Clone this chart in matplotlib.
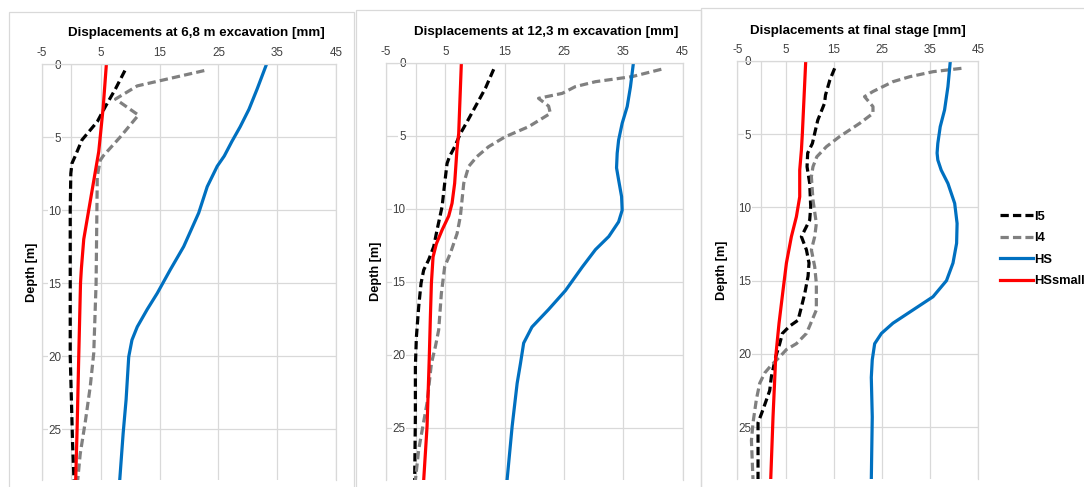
import matplotlib
matplotlib.use("Agg")
import matplotlib.pyplot as plt
from matplotlib.patches import Rectangle
from matplotlib.lines import Line2D

plt.rcParams['font.family'] = ['Liberation Sans', 'DejaVu Sans']
plt.rcParams['axes.unicode_minus'] = False

# ---------------- data ----------------
titles = ["Displacements at 6,8 m excavation [mm]",
          "Displacements at 12,3 m excavation [mm]",
          "Displacements at final stage [mm]"]
series_names = ["I5", "I4", "HS", "HSsmall"]
x_ticks = [-5, 5, 15, 25, 35, 45]
y_ticks = [0, 5, 10, 15, 20, 25]

# Panel 1 (6,8 m excavation)
p1_i5_d = [0.45, 1.7, 2.9, 3.95, 5.2, 5.9, 6.35, 6.8, 7.5, 10, 15, 20, 23, 26, 28.6]
p1_i5_x = [9.1, 7.5, 5.8, 4.4, 1.8, 1.07, 0.6, 0.1, -0.1, -0.2, -0.2, -0.2, 0.0, 0.2, 0.45]
p1_i4_d = [0.45, 1.5, 2.4, 3.5, 5.0, 6.3, 6.6, 7.7, 15, 19.8, 22.1, 24.4, 26.7, 28.6]
p1_i4_x = [22.6, 11.2, 7.5, 11.4, 8.3, 5.4, 4.9, 4.4, 4.2, 3.8, 3.2, 2.4, 1.5, 1.05]
p1_hs_d = [0, 1.7, 3.1, 4.3, 5.3, 6.3, 7.0, 8.4, 10.2, 12.5, 14.1, 15.7, 16.8, 18.0, 18.9,
           20.05, 23, 25.3, 28.6]
p1_hs_x = [33.2, 31.6, 30.2, 28.7, 27.3, 26.0, 24.8, 23.1, 21.65, 19.1, 16.8, 14.6, 12.9, 11.2,
           10.3, 9.75, 9.3, 8.8, 8.2]
p1_hss_d = [0, 3, 6, 8, 10, 12, 14, 15, 20, 25, 28.6]
p1_hss_x = [5.95, 5.4, 4.65, 3.8, 2.95, 2.1, 1.7, 1.55, 1.25, 0.97, 0.72]

# Panel 2 (12,3 m excavation)
p2_i5_d = [0.45, 1.75, 3.0, 4.04, 4.85, 5.75, 6.44, 6.9, 8.26, 9.86, 11.46, 12.6, 13.5, 14.2,
           15.1, 16.7, 18.8, 20.8, 24.2, 28.6]
p2_i5_x = [13.15, 11.75, 10.07, 8.67, 7.54, 6.58, 5.69, 5.29, 4.89, 4.45, 3.6, 3.04, 2.19, 1.35,
           0.91, 0.51, 0.12, -0.05, -0.05, -0.17]
p2_i4_d = [0.45, 0.95, 1.3, 1.64, 2.1, 2.44, 2.97, 3.47, 4.38, 5.07, 5.75, 6.44, 7.1, 8.26,
           10.5, 11.7, 13.05, 13.97, 15.8, 18.3, 19.45, 20.6, 23.3, 25.2, 26.5, 28.6]
p2_i4_x = [41.4, 36.5, 30.3, 26.9, 24.7, 20.7, 22.4, 22.7, 19.05, 15.1, 12.3, 10.3, 8.94, 8.1,
           7.54, 6.98, 5.85, 4.89, 4.33, 3.88, 3.32, 2.65, 1.92, 1.08, 0.51, -0.05]
p2_hs_d = [0, 1.64, 3.0, 4.15, 5.3, 6.2, 7.2, 8.03, 9.17, 10.1, 10.9, 11.9, 12.8, 14.0, 15.6,
           16.9, 18.1, 19.2, 20.6, 21.96, 24.9, 28.6]
p2_hs_x = [36.7, 36.2, 35.65, 34.8, 34.2, 33.96, 33.85, 34.2, 34.7, 34.8, 34.2, 32.55, 30.3,
           28.06, 25.25, 22.4, 19.6, 18.2, 17.66, 17.1, 16.26, 15.4]
p2_hss_d = [0, 4.85, 6.0, 8.26, 9.63, 10.5, 11.46, 12.4, 13.3, 15.1, 17.4, 20.1, 24.9, 28.6]
p2_hss_x = [7.7, 7.25, 6.95, 6.57, 6.13, 5.57, 4.45, 3.49, 2.93, 2.65, 2.48, 2.3, 1.92, 1.35]

# Panel 3 (final stage)
p3_i5_d = [0.52, 1.32, 2.34, 2.9, 4.05, 4.95, 5.64, 6.3, 7.23, 8.37, 9.96, 10.87, 12.0, 12.9,
           13.8, 14.7, 15.9, 16.8, 17.7, 18.1, 18.6, 19.3, 20.2, 21.55, 22.5, 23.8, 24.7, 28.6]
p3_i5_x = [15.2, 14.2, 13.3, 13.1, 11.7, 11.06, 10.58, 9.6, 9.47, 10.02, 10.23, 10.02, 8.3,
           9.34, 9.88, 9.68, 8.98, 8.3, 7.6, 5.87, 4.36, 3.8, 2.97, 2.07, 1.72, 0.33, -0.7, -0.7]
p3_i4_d = [0.52, 0.75, 1.09, 1.43, 2.1, 2.45, 3.13, 3.59, 4.27, 5.18, 5.86, 6.55, 7.23, 7.91,
           9.5, 11.1, 12.0, 12.9, 14.05, 15.2, 17.0, 18.1, 18.6, 19.3, 19.7, 20.2, 20.76, 21.3,
           22.0, 23.1, 24.7, 25.9, 28.6]
p3_i4_x = [41.5, 35.6, 30.8, 27.3, 23.15, 21.4, 23.15, 23.15, 20.4, 16.2, 13.5, 11.5, 10.7,
           10.37, 10.7, 11.4, 11.06, 10.37, 11.06, 11.4, 11.4, 10.0, 9.34, 7.26, 5.19, 3.8, 2.07,
           0.68, -0.35, -1.04, -1.74, -2.07, -1.74]
p3_hs_d = [0, 1.77, 3.36, 4.5, 5.64, 6.3, 6.77, 7.46, 8.37, 9.73, 11.1, 12.45, 13.8, 15.0, 16.1,
           17.0, 17.9, 18.6, 19.3, 20.4, 21.6, 24.3, 28.6]
p3_hs_x = [39.2, 38.7, 38.0, 37.1, 36.6, 36.45, 36.6, 37.3, 38.7, 40.1, 40.6, 40.5, 39.75, 38.4,
           35.6, 31.45, 27.3, 24.9, 23.5, 23.0, 22.8, 23.0, 22.8]
p3_hss_d = [0, 4.95, 6.1, 7.46, 9.28, 10.64, 12.0, 13.8, 15.65, 17.9, 20.2, 24.3, 28.6]
p3_hss_x = [9.2, 8.5, 8.3, 7.95, 7.95, 7.26, 6.22, 5.19, 4.49, 3.66, 2.97, 2.41, 1.93]

panels = [
    [(p1_i5_x, p1_i5_d), (p1_i4_x, p1_i4_d), (p1_hs_x, p1_hs_d), (p1_hss_x, p1_hss_d)],
    [(p2_i5_x, p2_i5_d), (p2_i4_x, p2_i4_d), (p2_hs_x, p2_hs_d), (p2_hss_x, p2_hss_d)],
    [(p3_i5_x, p3_i5_d), (p3_i4_x, p3_i4_d), (p3_hs_x, p3_hs_d), (p3_hss_x, p3_hss_d)],
]

# ---------------- styles / layout ----------------
W, H = 1084, 487
colors = ["#000000", "#808080", "#0070C0", "#FF0000"]
dashed = [True, True, False, False]
grid_c = "#d9d9d9"
tick_c = "#404040"

# axes rectangles in pixels: left, right, top, bottom, depth at bottom
ax_px = [(42, 336, 64, 480, 28.49),
         (386, 682.7, 62.7, 480, 28.58),
         (737.3, 978.3, 60.7, 479.3, 28.55)]
title_pos = [(196, 33.3), (546, 32.3), (857.5, 30.7)]
ylabel_pos = [(32, 272), (375.7, 271.7), (721.7, 270)]
frames = [(9.3, 12.3, 354, 520), (355.5, 10, 700.7, 520), (701, 8.3, 1120, 520)]

fig = plt.figure(figsize=(W / 100, H / 100), dpi=100)
fig.patch.set_facecolor("white")

for (x0, y0, x1, y1) in frames:
    fig.patches.append(Rectangle((x0 / W, 1 - y1 / H), (x1 - x0) / W, (y1 - y0) / H,
                                 transform=fig.transFigure, fill=False,
                                 edgecolor=grid_c, linewidth=0.9, zorder=0))

dash_style = (0, (2.6, 1.3))
for i, series in enumerate(panels):
    l, r, t, b, dmax = ax_px[i]
    ax = fig.add_axes([l / W, 1 - b / H, (r - l) / W, (b - t) / H])
    ax.set_xlim(-5, 45)
    ax.set_ylim(dmax, 0)
    ax.set_axisbelow(True)
    for k, (xs, ds) in enumerate(series):
        if dashed[k]:
            ax.plot(xs, ds, color=colors[k], lw=2.3, linestyle=dash_style,
                    dash_capstyle="butt", solid_joinstyle="round")
        else:
            ax.plot(xs, ds, color=colors[k], lw=2.3, solid_capstyle="butt",
                    solid_joinstyle="round")
    ax.axvline(0, color=grid_c, lw=0.9, zorder=0.6)
    ax.set_xticks(x_ticks)
    ax.set_yticks(y_ticks)
    ax.xaxis.tick_top()
    ax.grid(True, color=grid_c, lw=0.9)
    for s in ["left", "right", "top"]:
        ax.spines[s].set_color(grid_c)
        ax.spines[s].set_linewidth(0.9)
    ax.spines["bottom"].set_visible(False)
    width_px = r - l
    pad_px = 5 / 50 * width_px - 10
    ax.tick_params(axis="x", length=0, pad=3.5, labelsize=8.4, labelcolor=tick_c)
    ax.tick_params(axis="y", length=0, pad=-pad_px * 0.72, labelsize=8.4, labelcolor=tick_c)
    for lab in ax.get_yticklabels():
        lab.set_bbox(dict(facecolor="white", edgecolor="none", pad=0.6))
    tx, ty = title_pos[i]
    fig.text(tx / W, 1 - ty / H, titles[i], ha="center", va="center",
             fontsize=9.6, fontweight="bold", color="#000000")
    lx, ly = ylabel_pos[i]
    fig.text(lx / W, 1 - ly / H, "Depth [m]", ha="center", va="center", rotation=90,
             fontsize=9.2, fontweight="bold", color="#000000")

leg_handles = [Line2D([0], [0], color=colors[k], lw=2.3,
                      linestyle=dash_style if dashed[k] else "-",
                      dash_capstyle="butt") for k in range(4)]
fig.legend(leg_handles, series_names, loc="center left",
           bbox_to_anchor=(1000 / W, 1 - 249 / H), frameon=False,
           prop={"weight": "bold", "size": 9.3}, handlelength=2.55, handletextpad=0.1,
           labelspacing=0.74, borderpad=0, borderaxespad=0)

fig.savefig("out.png", dpi=100, facecolor="white")
